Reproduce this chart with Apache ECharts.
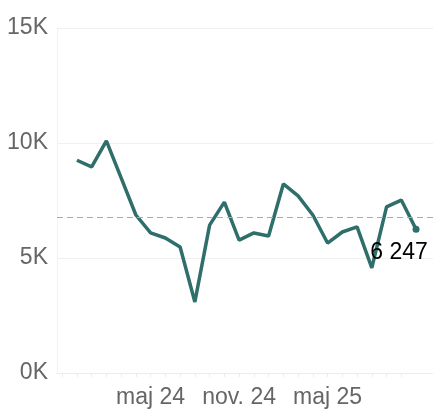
<!DOCTYPE html>
<html>
<head>
<meta charset="utf-8">
<script src="https://cdn.jsdelivr.net/npm/echarts@6/dist/echarts.min.js"></script>
<style>
  html, body { margin: 0; padding: 0; background: #fff; }
  #chart { width: 433px; height: 409px; }
</style>
</head>
<body>
<div id="chart"></div>
<script>
// monthly values, dec 23 .. nov 25
const months = ['dec. 23', 'jan. 24', 'feb. 24', 'mar. 24', 'apr. 24', 'maj 24',
  'jun. 24', 'jul. 24', 'aug. 24', 'sep. 24', 'okt. 24', 'nov. 24',
  'dec. 24', 'jan. 25', 'feb. 25', 'mar. 25', 'apr. 25', 'maj 25',
  'jun. 25', 'jul. 25', 'aug. 25', 'sep. 25', 'okt. 25', 'nov. 25'];
const values = [9250, 8960, 10090, 8480, 6870, 6090, 5870, 5480, 3090, 6430, 7430, 5780,
  6090, 5960, 8220, 7700, 6870, 5650, 6130, 6350, 4570, 7220, 7520, 6247];
const labelIdx = [5, 11, 17];
const yTicks = [0, 5000, 10000, 15000];

const last = values.length - 1;
const font = 'Liberation Sans, Arial, sans-serif';
const seriesData = values.map((v, i) => {
  if (i === last) {
    return {
      value: [i, v],
      label: {
        show: true,
        position: 'bottom',
        offset: [-17, 3],
        color: '#000',
        fontSize: 23,
        fontFamily: font,
        formatter: () => v.toLocaleString('da-DK').replace(/\./g, ' ')
      }
    };
  }
  return [i, v];
});

const chart = echarts.init(document.getElementById('chart'));
chart.setOption({
  animation: false,
  grid: { left: 57, right: 0, top: 28, bottom: 36 },
  xAxis: {
    type: 'value',
    min: -1.35,
    max: 24.15,
    axisLine: { show: true, onZero: false, lineStyle: { color: '#ececec' } },
    axisTick: {
      show: true,
      customValues: months.map((m, i) => i - 1),
      length: 4,
      lineStyle: { color: '#ececec' }
    },
    axisLabel: {
      customValues: labelIdx,
      formatter: v => months[Math.round(v)],
      color: '#666',
      fontSize: 23,
      margin: 13,
      fontFamily: font
    },
    splitLine: { show: false }
  },
  yAxis: {
    type: 'value',
    min: yTicks[0],
    max: yTicks[yTicks.length - 1],
    interval: 5000,
    axisLine: { show: true, onZero: false, lineStyle: { color: '#f2f2f2' } },
    axisTick: { show: false },
    axisLabel: {
      formatter: v => (v / 1000) + 'K',
      color: '#666',
      fontSize: 23,
      margin: 9,
      fontFamily: font
    },
    splitLine: { lineStyle: { color: '#f0f0f0' } }
  },
  series: [{
    type: 'line',
    data: seriesData,
    showSymbol: true,
    symbol: 'circle',
    symbolSize: (val, p) => (p.dataIndex === last ? 7 : 0),
    lineStyle: { color: '#2e6e6b', width: 3.5 },
    itemStyle: { color: '#2e6e6b' },
    markLine: {
      silent: true,
      symbol: 'none',
      label: { show: false },
      lineStyle: { color: '#aaa', type: [6, 4], width: 1 },
      data: [{ type: 'average', valueDim: 'y' }]
    }
  }]
});
</script>
</body>
</html>
